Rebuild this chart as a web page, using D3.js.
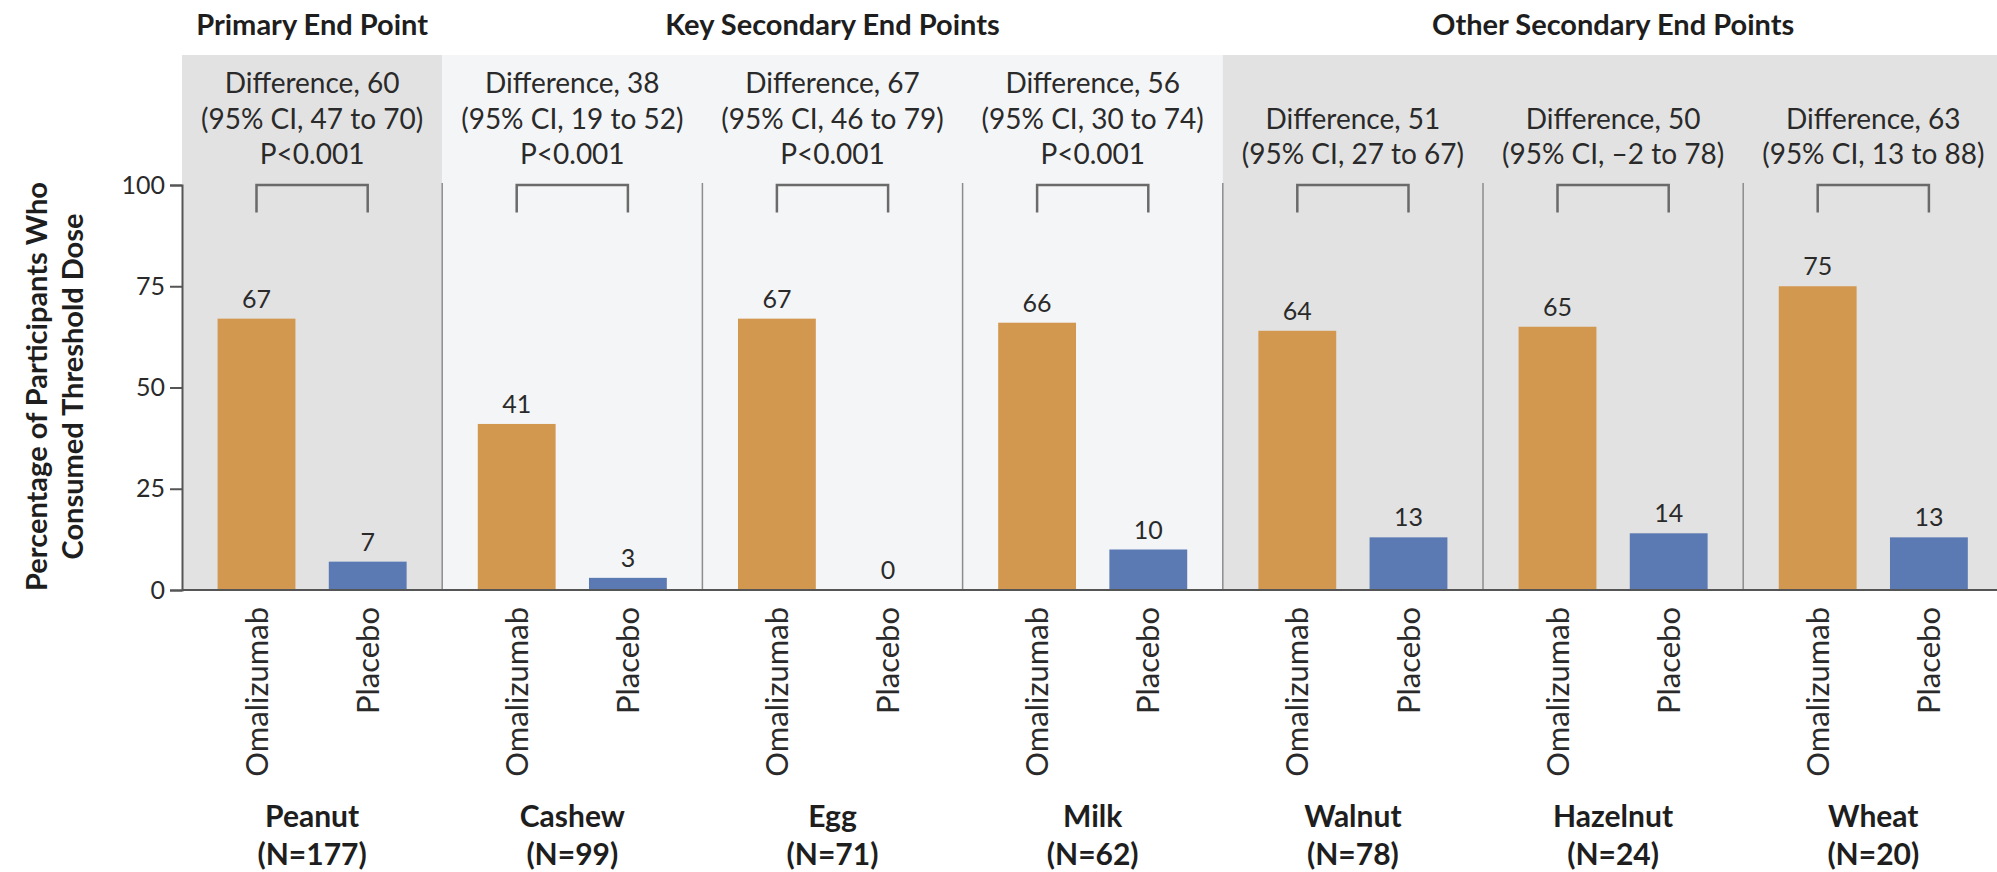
<!DOCTYPE html>
<html>
<head>
<meta charset="utf-8">
<script src="https://cdn.jsdelivr.net/npm/d3@7"></script>
<style>
  html, body { margin: 0; padding: 0; background: #ffffff; }
  svg { display: block; font-family: Lato, "Open Sans", sans-serif; }
</style>
</head>
<body>
<svg id="chart" width="1997" height="872"></svg>
<script>
// ---------------- data ----------------
const foods = ["Peanut", "Cashew", "Egg", "Milk", "Walnut", "Hazelnut", "Wheat"];
const sampleSizes = [177, 99, 71, 62, 78, 24, 20];
const arms = ["Omalizumab", "Placebo"];
const omalizumabValues = [67, 41, 67, 66, 64, 65, 75];
const placeboValues = [7, 3, 0, 10, 13, 14, 13];
const differences = [60, 38, 67, 56, 51, 50, 63];
const ciLow = [47, 19, 46, 30, 27, -2, 13];
const ciHigh = [70, 52, 79, 74, 67, 78, 88];
const pValues = ["P<0.001", "P<0.001", "P<0.001", "P<0.001", null, null, null];
const groupNames = ["Primary End Point", "Key Secondary End Points", "Other Secondary End Points"];
const groupFirst = [0, 1, 4];
const groupLast = [0, 3, 6];
const yTicks = [0, 25, 50, 75, 100];
const yTitleLines = ["Percentage of Participants Who", "Consumed Threshold Dose"];

// ---------------- layout ----------------
const svg = d3.select("#chart");
const left = 182, panelW = 260.2;
const yBottom = 590, yTop = 185;
const panelTop = 55;
const colors = { Omalizumab: "#d3984f", Placebo: "#5b79b3" };
const groupFills = ["#e2e2e2", "#f4f5f6", "#e2e2e2"];
const textColor = "#2a2a2a";

const x = d3.scaleBand().domain(foods).range([left, left + panelW * foods.length]).padding(0);
const xi = d3.scaleBand().domain(arms).range([0, x.bandwidth()]).paddingInner(0.3).paddingOuter(0.32);
const y = d3.scaleLinear().domain([0, 100]).range([yBottom, yTop]);

const rows = foods.map((f, i) => ({
  food: f, n: sampleSizes[i],
  values: [{ arm: "Omalizumab", v: omalizumabValues[i] }, { arm: "Placebo", v: placeboValues[i] }],
  diff: differences[i], lo: ciLow[i], hi: ciHigh[i], p: pValues[i]
}));

// group backgrounds
const groups = groupNames.map((g, i) => ({ name: g, first: foods[groupFirst[i]], last: foods[groupLast[i]], fill: groupFills[i] }));
svg.append("g").selectAll("rect").data(groups).join("rect")
  .attr("x", d => x(d.first))
  .attr("y", panelTop)
  .attr("width", d => x(d.last) + x.bandwidth() - x(d.first))
  .attr("height", y(0) - panelTop)
  .attr("fill", d => d.fill);

// group headers
svg.append("g").selectAll("text").data(groups).join("text")
  .attr("x", d => (x(d.first) + x(d.last) + x.bandwidth()) / 2)
  .attr("y", 35)
  .attr("text-anchor", "middle")
  .attr("font-weight", 700)
  .attr("font-size", 29)
  .attr("fill", "#1e1e1e")
  .text(d => d.name);

// panel separators
svg.append("g").selectAll("line").data(foods.slice(1)).join("line")
  .attr("x1", d => x(d)).attr("x2", d => x(d))
  .attr("y1", y(100) - 2).attr("y2", y(0))
  .attr("stroke", "#8c8c8c").attr("stroke-width", 1.5);

// panels
const panel = svg.append("g").selectAll("g").data(rows).join("g")
  .attr("transform", d => `translate(${x(d.food)},0)`);

// difference text
const fmt = v => v < 0 ? "\u2013" + Math.abs(v) : String(v);
panel.each(function (d) {
  const lines = [`Difference, ${d.diff}`, `(95% CI, ${fmt(d.lo)} to ${fmt(d.hi)})`];
  if (d.p) lines.push(d.p);
  const g = d3.select(this);
  const lastBaseline = 164, lh = 35.5;
  lines.forEach((t, k) => {
    g.append("text")
      .attr("x", x.bandwidth() / 2)
      .attr("y", lastBaseline - (lines.length - 1 - k) * lh)
      .attr("text-anchor", "middle")
      .attr("font-size", 28)
      .attr("fill", textColor)
      .text(t);
  });
});

// brackets
panel.append("path")
  .attr("d", () => {
    const a = xi("Omalizumab") + xi.bandwidth() / 2;
    const b = xi("Placebo") + xi.bandwidth() / 2;
    return `M${a},${y(93.2)}V${y(100)}H${b}V${y(93.2)}`;
  })
  .attr("fill", "none").attr("stroke", "#6a6a6a").attr("stroke-width", 2.5);

// bars
panel.selectAll("rect.bar").data(d => d.values).join("rect")
  .attr("class", "bar")
  .attr("x", d => xi(d.arm))
  .attr("width", xi.bandwidth())
  .attr("y", d => y(d.v))
  .attr("height", d => y(0) - y(d.v))
  .attr("fill", d => colors[d.arm]);

// value labels
panel.selectAll("text.val").data(d => d.values).join("text")
  .attr("class", "val")
  .attr("x", d => xi(d.arm) + xi.bandwidth() / 2)
  .attr("y", d => y(d.v) - 11)
  .attr("text-anchor", "middle")
  .attr("font-size", 25)
  .attr("fill", textColor)
  .text(d => d.v);

// arm labels (rotated)
panel.selectAll("text.arm").data(d => d.values).join("text")
  .attr("class", "arm")
  .attr("transform", d => `translate(${xi(d.arm) + xi.bandwidth() / 2},607) rotate(-90)`)
  .attr("text-anchor", "end")
  .attr("dy", "0.36em")
  .attr("font-size", 31)
  .attr("fill", textColor)
  .text(d => d.arm);

// food labels
panel.append("text")
  .attr("x", x.bandwidth() / 2).attr("y", 827)
  .attr("text-anchor", "middle").attr("font-weight", 700).attr("font-size", 30)
  .attr("fill", "#1e1e1e")
  .text(d => d.food);
panel.append("text")
  .attr("x", x.bandwidth() / 2).attr("y", 865)
  .attr("text-anchor", "middle").attr("font-weight", 700).attr("font-size", 30)
  .attr("fill", "#1e1e1e")
  .text(d => `(N=${d.n})`);

// x baseline
svg.append("line")
  .attr("x1", left).attr("x2", 1997)
  .attr("y1", y(0)).attr("y2", y(0))
  .attr("stroke", "#555").attr("stroke-width", 2);

// y axis
const yAxis = svg.append("g")
  .attr("transform", `translate(${left},0)`)
  .call(d3.axisLeft(y).tickValues(yTicks).tickSize(12).tickPadding(5));
yAxis.select(".domain").attr("stroke", "#555").attr("stroke-width", 2);
yAxis.selectAll(".tick line").attr("stroke", "#555").attr("stroke-width", 2);
yAxis.selectAll(".tick text")
  .attr("font-family", "Lato, 'Open Sans', sans-serif")
  .attr("font-size", 25).attr("fill", textColor);

// y title
const yTitle = svg.append("text")
  .attr("transform", `translate(0,${(y(0) + y(100)) / 2 - 1}) rotate(-90)`)
  .attr("text-anchor", "middle")
  .attr("font-weight", 700).attr("font-size", 29)
  .attr("fill", "#1e1e1e");
yTitle.selectAll("tspan").data(yTitleLines).join("tspan")
  .attr("x", 0)
  .attr("y", (d, i) => i === 0 ? 47 : 83)
  .text(d => d);
</script>
</body>
</html>
